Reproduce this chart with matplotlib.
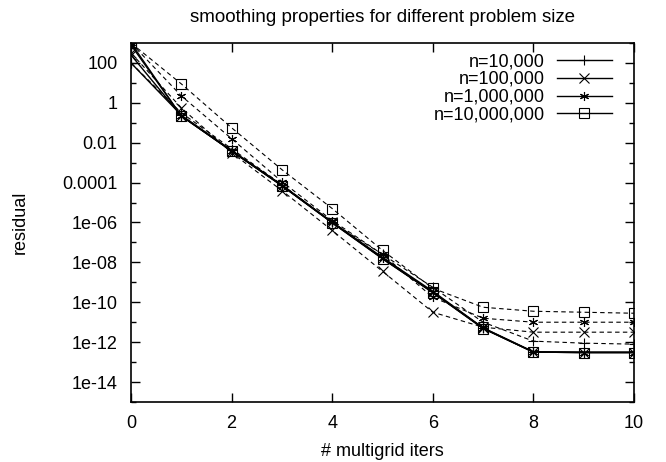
import numpy as np
import matplotlib
matplotlib.use("Agg")
import matplotlib.pyplot as plt
from matplotlib.ticker import FixedLocator, FixedFormatter

plt.rcParams['font.family'] = ['Liberation Sans', 'DejaVu Sans']

iters = [0, 1, 2, 3, 4, 5, 6, 7, 8, 9, 10]
labels = ["n=10,000", "n=100,000", "n=1,000,000", "n=10,000,000"]
markers = ["+", "x", (6, 2, 0), "s"]

# log10(residual)
solid = [
    [2.0, -0.62, -2.38, -4.12, -5.98, -7.75, -9.45, -11.28, -12.48, -12.5, -12.5],
    [2.4, -0.65, -2.42, -4.15, -6.0, -7.8, -9.5, -11.3, -12.5, -12.52, -12.52],
    [2.9, -0.66, -2.41, -4.15, -6.0, -7.8, -9.5, -11.3, -12.5, -12.52, -12.52],
    [3.0, -0.66, -2.42, -4.16, -6.02, -7.82, -9.52, -11.32, -12.5, -12.52, -12.52],
]
dashed = [
    [2.0, -0.5, -2.3, -4.1, -6.0, -7.6, -9.25, -11.0, -11.95, -12.05, -12.1],
    [2.5, -0.25, -2.5, -4.4, -6.4, -8.45, -10.5, -11.25, -11.5, -11.5, -11.5],
    [3.0, 0.35, -1.8, -3.95, -5.9, -7.6, -9.75, -10.8, -11.0, -11.0, -11.0],
    [3.0, 0.95, -1.25, -3.35, -5.3, -7.4, -9.3, -10.25, -10.45, -10.5, -10.55],
]

fig = plt.figure(figsize=(6.66, 4.62), dpi=100)
ax = fig.add_axes([0.1967, 0.1299, 0.7553, 0.777])

for i in range(4):
    ax.plot(iters, 10 ** np.array(dashed[i]), color="black", lw=0.8,
            linestyle=(0, (4, 3)), marker=markers[i], markersize=6.5,
            markerfacecolor="none", markeredgewidth=0.8)
for i in range(4):
    ax.plot(iters, 10 ** np.array(solid[i]), color="black", lw=1.0,
            marker=markers[i], markersize=6.5, markerfacecolor="none",
            markeredgewidth=0.8, label=labels[i])

ax.set_yscale("log")
ax.set_xlim(0, 10)
ax.set_ylim(1e-15, 1e3)

ytick_vals = [1e2, 1, 1e-2, 1e-4, 1e-6, 1e-8, 1e-10, 1e-12, 1e-14]
ytick_labels = ["100", "1", "0.01", "0.0001", "1e-06", "1e-08", "1e-10", "1e-12", "1e-14"]
ax.yaxis.set_major_locator(FixedLocator(ytick_vals))
ax.yaxis.set_major_formatter(FixedFormatter(ytick_labels))
ax.yaxis.set_minor_locator(FixedLocator([10.0 ** k for k in range(-15, 4, 2)]))
ax.yaxis.set_minor_formatter(FixedFormatter([]))
ax.set_xticks([0, 2, 4, 6, 8, 10])

ax.tick_params(which="both", direction="in", top=True, right=True,
               labelsize=13, width=1, pad=9.5)
ax.tick_params(which="major", length=6.5)
ax.tick_params(which="minor", length=3.5)
for s in ax.spines.values():
    s.set_linewidth(1.2)

ax.set_xlabel("# multigrid iters", fontsize=13, labelpad=8)
ax.set_ylabel("residual", fontsize=13, labelpad=24)
ax.set_title("smoothing properties for different problem size", fontsize=13.5, pad=15)

leg = ax.legend(loc="upper right", bbox_to_anchor=(0.956, 0.972),
                frameon=False, markerfirst=False, fontsize=13,
                handlelength=3.05, labelspacing=0.05, borderpad=0,
                borderaxespad=0, handletextpad=0.66)
for t in leg.get_texts():
    t.set_ha("right")
leg._legend_box.align = "right"

fig.savefig("out.png", dpi=100)
